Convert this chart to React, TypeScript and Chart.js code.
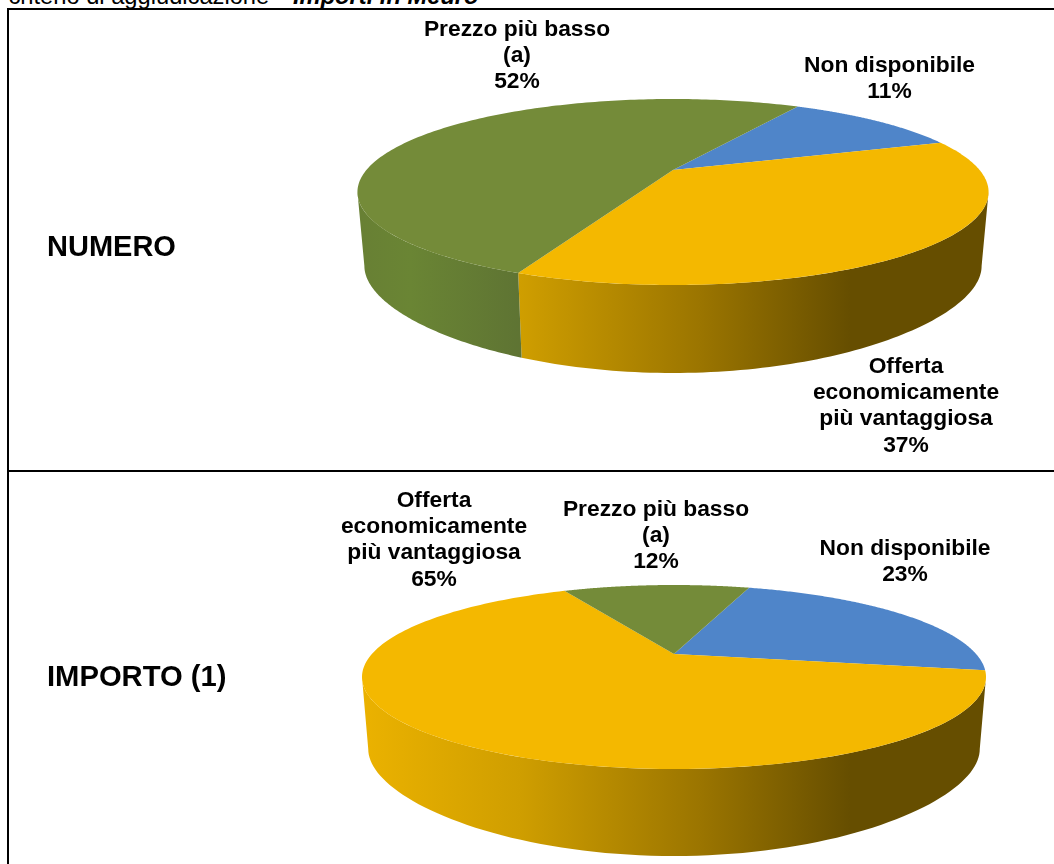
import React, { useEffect, useRef } from "react";
import { Chart, registerables } from "chart.js";

Chart.register(...registerables);

// ---- data ----
const categories = ["Non disponibile", "Offerta\neconomicamente\npiù vantaggiosa", "Prezzo più basso\n(a)"];
const numeroValues = [11.4, 36.9, 51.7];
const importoValues = [22.9, 64.8, 12.3];
const numeroRotation = 29.4;
const importoRotation = 17.9;
const topColors = ["#4F85C9", "#F4B800", "#748B39"];
const rowTitles = ["NUMERO", "IMPORTO (1)"];
const captionPlain = "criterio di aggiudicazione -";
const captionBold = "Importi in Meuro";

// ---- layout / style ----
const FONT = '"Liberation Sans", Arial, sans-serif';
const LABEL_SIZE = 22.8;
const LINE_H = 26.1;
const SEGMENTS = 90;

type Geo = {
  top: number; height: number; cx: number; cy: number;
  b: number; a: number; k: number; shrink: number; h: number; drop: number;
  anchors: { x: number; y: number }[];
};
const numeroGeo: Geo = {
  top: 10, height: 460, cx: 673, cy: 170, b: 306.6, a: 87.8, k: 0.2366, shrink: 0.978, h: 88, drop: 14,
  anchors: [{ x: 889.5, y: 66 }, { x: 906, y: 367 }, { x: 517, y: 30 }],
};
const importoGeo: Geo = {
  top: 472, height: 392, cx: 674, cy: 654, b: 302.1, a: 86.25, k: 0.25, shrink: 0.98, h: 87, drop: 15,
  anchors: [{ x: 905, y: 548.5 }, { x: 434, y: 501 }, { x: 656, y: 510 }],
};

const wallStops: [number, string][][] = [
  [],
  [[362, "#EBB200"], [520, "#CF9E00"], [700, "#9B7500"], [850, "#664E00"]],
  [[362, "#688034"], [410, "#6A8534"], [525, "#5E7333"]],
];

function topRim(g: Geo, ang: number) {
  const d = 1 - g.k * Math.sin(ang);
  return { x: g.cx + (g.b * Math.cos(ang)) / d, y: g.cy + (g.a * Math.sin(ang)) / d };
}

function bottomRim(g: Geo, ang: number) {
  const p = topRim(g, ang);
  const halfWidth = g.b / Math.sqrt(1 - g.k * g.k);
  const t = (p.x - g.cx) / halfWidth;
  return { x: g.cx + (p.x - g.cx) * g.shrink, y: p.y + g.h - g.drop * t * t };
}

function pie3dPlugin(g: Geo) {
  return {
    id: "pie3d",
    beforeDatasetsDraw(chart: any) {
      const ctx: CanvasRenderingContext2D = chart.ctx;
      const arcs = chart.getDatasetMeta(0).data as any[];
      const colors = chart.data.datasets[0].backgroundColor as string[];
      ctx.save();
      ctx.translate(0, -g.top);

      // side wall
      const sil = Math.asin(g.k);
      arcs.forEach((arc, i) => {
        const stops = wallStops[i];
        if (!stops.length) return;
        for (const shift of [0, Math.PI * 2, -Math.PI * 2]) {
          const s = Math.max(arc.startAngle + shift, sil);
          const e = Math.min(arc.endAngle + shift, Math.PI - sil);
          if (e <= s) continue;
          const x0 = stops[0][0];
          const x1 = stops[stops.length - 1][0];
          const grad = ctx.createLinearGradient(x0, 0, x1, 0);
          stops.forEach(([x, c]) => grad.addColorStop((x - x0) / (x1 - x0), c));
          ctx.beginPath();
          for (let n = 0; n <= SEGMENTS; n++) {
            const p = topRim(g, s + ((e - s) * n) / SEGMENTS);
            n === 0 ? ctx.moveTo(p.x, p.y) : ctx.lineTo(p.x, p.y);
          }
          for (let n = SEGMENTS; n >= 0; n--) {
            const p = bottomRim(g, s + ((e - s) * n) / SEGMENTS);
            ctx.lineTo(p.x, p.y);
          }
          ctx.closePath();
          ctx.fillStyle = grad;
          ctx.fill();
        }
      });

      // top face
      arcs.forEach((arc, i) => {
        ctx.beginPath();
        ctx.moveTo(g.cx, g.cy);
        for (let n = 0; n <= SEGMENTS * 2; n++) {
          const p = topRim(g, arc.startAngle + ((arc.endAngle - arc.startAngle) * n) / (SEGMENTS * 2));
          ctx.lineTo(p.x, p.y);
        }
        ctx.closePath();
        ctx.fillStyle = colors[i];
        ctx.fill();
      });

      // data labels
      ctx.fillStyle = "#000";
      ctx.font = `bold ${LABEL_SIZE}px ${FONT}`;
      ctx.textAlign = "center";
      ctx.textBaseline = "middle";
      (chart.data.labels as string[]).forEach((label, i) => {
        const lines = [...label.split("\n"), `${Math.round(chart.data.datasets[0].data[i])}%`];
        lines.forEach((line, j) => {
          ctx.fillText(line, g.anchors[i].x, g.anchors[i].y + j * LINE_H);
        });
      });
      ctx.restore();
      return false;
    },
  };
}

function Pie3D({ values, rotation, geo }: { values: number[]; rotation: number; geo: Geo }) {
  const ref = useRef<HTMLCanvasElement>(null);
  useEffect(() => {
    const chart = new Chart(ref.current as HTMLCanvasElement, {
      type: "pie",
      data: {
        labels: categories,
        datasets: [{ data: values, backgroundColor: topColors, borderWidth: 0 }],
      },
      options: {
        animation: false,
        responsive: false,
        rotation,
        plugins: { legend: { display: false }, tooltip: { enabled: false } },
        layout: { padding: 0 },
      },
      plugins: [pie3dPlugin(geo)],
    } as any);
    return () => chart.destroy();
  }, []);
  return (
    <canvas
      ref={ref}
      width={1054}
      height={geo.height}
      style={{ position: "absolute", left: 0, top: geo.top, width: 1054, height: geo.height }}
    />
  );
}

const line = (s: React.CSSProperties): React.CSSProperties => ({ position: "absolute", background: "#000", ...s });
const title = (top: number, size: number): React.CSSProperties => ({
  position: "absolute", left: 47, top, font: `bold ${size}px ${FONT}`, lineHeight: "34px", color: "#000", whiteSpace: "nowrap",
});

export default function App() {
  useEffect(() => {
    document.body.style.margin = "0";
    document.body.style.background = "#fff";
  }, []);
  return (
    <div style={{ position: "fixed", left: 0, top: 0, width: 1054, height: 864, overflow: "hidden", background: "#fff" }}>
      <div style={{ position: "absolute", left: 8.5, top: -17, font: `23.7px ${FONT}`, lineHeight: "27px", whiteSpace: "nowrap", color: "#000" }}>
        {captionPlain}
        <b style={{ position: "absolute", left: 284.5, top: 0 }}><i>{captionBold}</i></b>
      </div>
      <Pie3D values={numeroValues} rotation={numeroRotation} geo={numeroGeo} />
      <Pie3D values={importoValues} rotation={importoRotation} geo={importoGeo} />
      <div style={line({ left: 7, top: 8, width: 1047, height: 2 })} />
      <div style={line({ left: 7, top: 8, width: 2, height: 856 })} />
      <div style={line({ left: 7, top: 470, width: 1047, height: 2 })} />
      <div style={title(229, 29)}>{rowTitles[0]}</div>
      <div style={title(659, 29.2)}>{rowTitles[1]}</div>
    </div>
  );
}
